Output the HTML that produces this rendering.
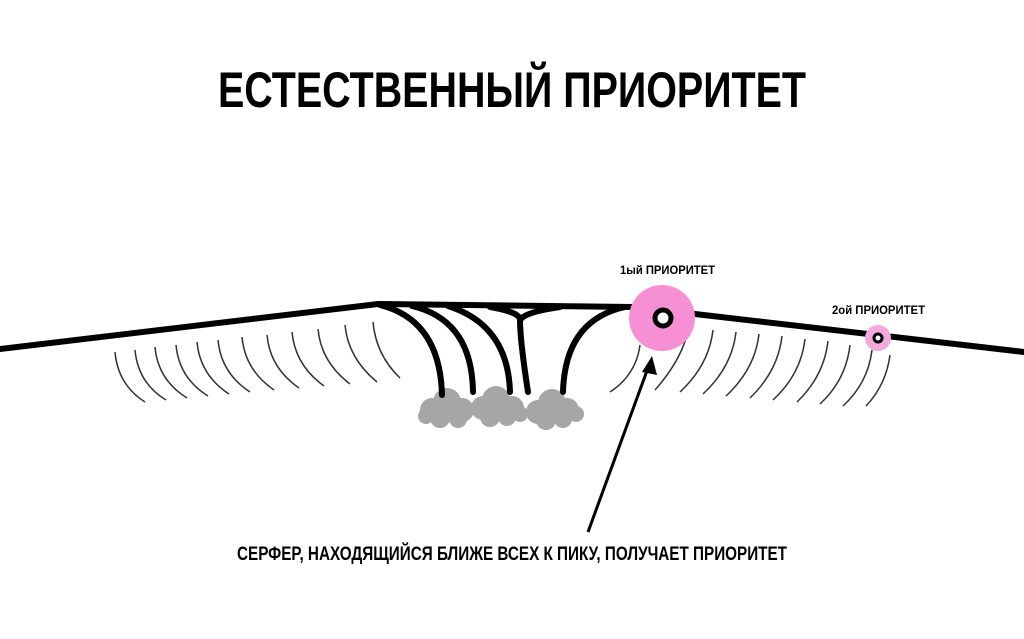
<!DOCTYPE html>
<html><head><meta charset="utf-8"><style>
html,body{margin:0;padding:0;background:#fff;width:1024px;height:639px;overflow:hidden}
text{font-family:"Liberation Sans",sans-serif;font-weight:bold;fill:#000}
</style></head><body>
<svg width="1024" height="639" viewBox="0 0 1024 639" xmlns="http://www.w3.org/2000/svg">
<text x="218" y="107" font-size="50" textLength="588" lengthAdjust="spacingAndGlyphs">ЕСТЕСТВЕННЫЙ ПРИОРИТЕТ</text>
<text x="620" y="274" font-size="12" textLength="95" lengthAdjust="spacingAndGlyphs">1ый ПРИОРИТЕТ</text>
<text x="832" y="314" font-size="12" textLength="93" lengthAdjust="spacingAndGlyphs">2ой ПРИОРИТЕТ</text>
<text x="237" y="560" font-size="19" textLength="550" lengthAdjust="spacingAndGlyphs">СЕРФЕР, НАХОДЯЩИЙСЯ БЛИЖЕ ВСЕХ К ПИКУ, ПОЛУЧАЕТ ПРИОРИТЕТ</text>
<g fill="none" stroke="#333" stroke-width="1.5">
<path d="M115 352 Q118 385 145 402"/><path d="M135 350 Q138 383 166 400"/><path d="M155 347 Q158 380 187 398"/><path d="M176 345 Q179 378 208 396"/><path d="M197 342 Q200 375 229 394"/><path d="M218 340 Q221 373 250 392"/><path d="M242 337 Q245 370 274 390"/><path d="M267 335 Q270 368 299 388"/><path d="M292 332 Q295 365 324 386"/><path d="M318 329 Q321 362 350 384"/><path d="M345 325 Q348 358 377 382"/><path d="M373 322 Q376 355 400 378"/>
<path d="M640 345 Q636 375 610 392"/><path d="M690 320 Q686 355 655 390"/><path d="M713 330 Q709 365 680 392"/><path d="M736 332 Q732 367 703 394"/><path d="M759 334 Q755 369 726 396"/><path d="M782 336 Q778 371 750 398"/><path d="M805 339 Q801 374 773 400"/><path d="M828 341 Q824 376 797 402"/><path d="M850 345 Q846 380 820 404"/><path d="M872 350 Q868 383 843 406"/><path d="M890 355 Q886 385 866 406"/>
</g>
<g fill="#a6a6a6">
<circle cx="432" cy="410" r="12"/><circle cx="447" cy="402" r="14"/><circle cx="462" cy="410" r="12"/><circle cx="440" cy="418" r="10"/><circle cx="458" cy="419" r="9"/><circle cx="426" cy="416" r="8"/>
<circle cx="483" cy="408" r="12"/><circle cx="496" cy="400" r="14"/><circle cx="512" cy="408" r="12"/><circle cx="490" cy="417" r="10"/><circle cx="507" cy="417" r="9"/><circle cx="520" cy="414" r="8"/>
<circle cx="538" cy="412" r="12"/><circle cx="552" cy="403" r="14"/><circle cx="567" cy="410" r="12"/><circle cx="546" cy="420" r="10"/><circle cx="563" cy="419" r="9"/><circle cx="576" cy="414" r="8"/>
</g>
<g fill="none" stroke="#000" stroke-width="6" stroke-linecap="round">
<path d="M0 349 L378 304 L632 307"/>
<path d="M695 314 L1024 352"/>
<path d="M380 305 Q440 320 442 395"/>
<path d="M412 306 Q472 320 473 392"/>
<path d="M448 306 Q508 325 510 392"/>
<path d="M490 307 Q520 312 520 320 Q520 340 528 392"/>
<path d="M560 307 Q525 312 520 320"/>
<path d="M625 307 Q565 320 563 392"/>
</g>
<circle cx="662" cy="318" r="33" fill="#f78fd4"/>
<circle cx="663" cy="318" r="8" fill="#fff" stroke="#000" stroke-width="5"/>
<circle cx="878" cy="338" r="13" fill="#f3a9db"/>
<circle cx="878" cy="338" r="4" fill="#fff" stroke="#000" stroke-width="3"/>
<line x1="588" y1="532" x2="648" y2="368" stroke="#000" stroke-width="3"/>
<polygon points="652,356 642,372 657,375" fill="#000"/>
</svg>
</body></html>
